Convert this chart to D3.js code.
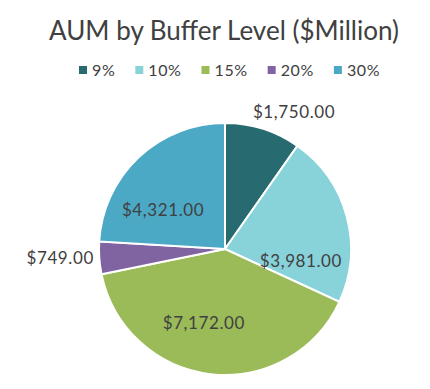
<!DOCTYPE html>
<html>
<head>
<meta charset="utf-8">
<title>AUM by Buffer Level</title>
<script src="https://cdn.jsdelivr.net/npm/d3@7"></script>
<style>
  body { margin: 0; background: #fff; }
  svg { display: block; }
  text { font-family: Lato, "Open Sans", sans-serif; fill: #404040; }
</style>
</head>
<body>
<div id="chart"></div>
<script>
var levels = ['9%', '10%', '15%', '20%', '30%'];
var aum = [1750, 3981, 7172, 749, 4321];
var colors = ['#276a6f', '#88d2da', '#9bbb59', '#8064a2', '#4ba9c6'];
// label placement: angle (deg from 12 o'clock) and distance as share of radius
var labelAngle = [26.7, 99, 196, 267, 302];
var labelDist = [1.22, 0.61, 0.61, 1.31, 0.58];

var width = 430, height = 389, cx = 225, cy = 249, radius = 126;

var svg = d3.select('#chart').append('svg')
  .attr('width', width)
  .attr('height', height);

svg.append('text')
  .attr('x', 224)
  .attr('y', 40)
  .attr('text-anchor', 'middle')
  .style('font-size', '26px')
  .text('AUM by Buffer Level ($Million)');

// legend
var legend = svg.append('g').attr('transform', 'translate(79,76)');
var lx = 0;
levels.forEach(function(lv, i) {
  var item = legend.append('g').attr('transform', 'translate(' + lx + ',0)');
  item.append('rect')
    .attr('x', 0).attr('y', -10)
    .attr('width', 8).attr('height', 8)
    .attr('fill', colors[i]);
  var t = item.append('text')
    .attr('x', 13)
    .attr('y', 0)
    .style('font-size', '16px')
    .style('letter-spacing', '0.6px')
    .text(lv);
  lx += 13 + t.node().getComputedTextLength() + 20;
});

var pie = d3.pie().sort(null).value(function(d) { return d; });
var arc = d3.arc().innerRadius(0).outerRadius(radius);

var g = svg.append('g').attr('transform', 'translate(' + cx + ',' + cy + ')');

g.selectAll('path.slice').data(pie(aum))
  .enter().append('path')
  .attr('class', 'slice')
  .attr('d', arc)
  .attr('fill', function(d, i) { return colors[i]; })
  .attr('stroke', '#fff')
  .attr('stroke-width', 2);

var fmt = d3.format('$,.2f');
g.selectAll('text.lbl').data(aum)
  .enter().append('text')
  .attr('class', 'lbl')
  .attr('text-anchor', 'middle')
  .attr('dy', '0.35em')
  .attr('x', function(d, i) { return Math.sin(labelAngle[i] * Math.PI / 180) * radius * labelDist[i]; })
  .attr('y', function(d, i) { return -Math.cos(labelAngle[i] * Math.PI / 180) * radius * labelDist[i]; })
  .style('font-size', '17px')
  .style('letter-spacing', '0.6px')
  .text(function(d) { return fmt(d); });
</script>
</body>
</html>
